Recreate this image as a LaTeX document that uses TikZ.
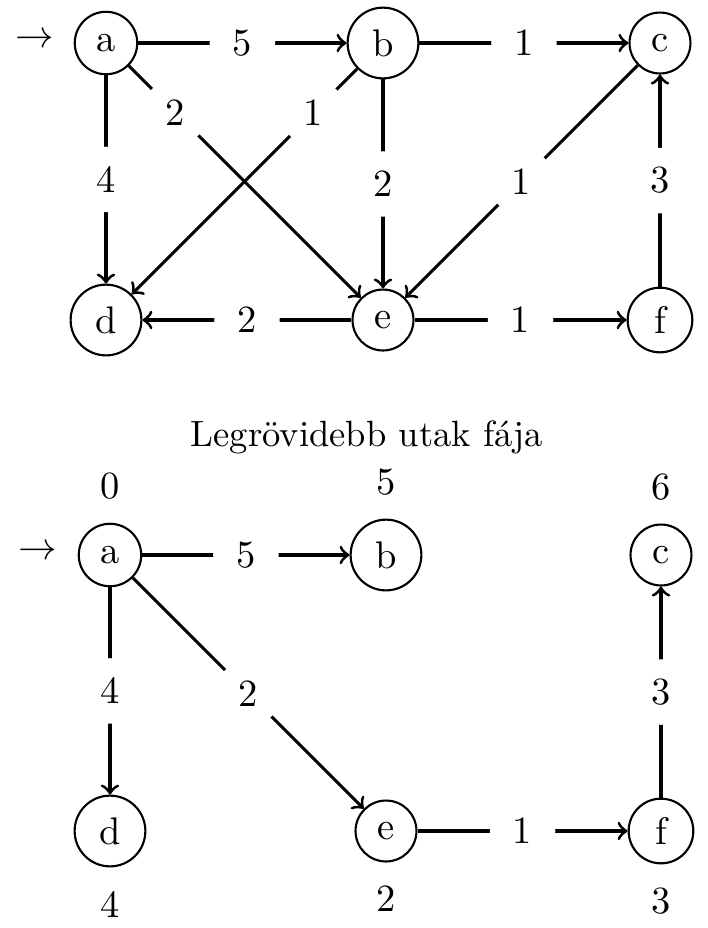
\documentclass[tikz,border=0pt]{standalone}
\begin{document}
\begin{tikzpicture}[x=0.2597pt,y=-0.2597pt,
  vert/.style={circle, draw, line width=0.55pt, inner sep=3.33pt},
  wlab/.style={circle, fill=white, minimum size=17pt, inner sep=0pt},
  edge/.style={thick, ->},
  dist/.style={label distance=2.6pt}]
\useasboundingbox (0,0) rectangle (707,928);
% top graph
\node[vert] (a) at (106,43) {a};
\node[vert] (b) at (383,43) {b};
\node[vert] (c) at (660,43) {c};
\node[vert] (d) at (106,320) {d};
\node[vert] (e) at (383,320) {e};
\node[vert] (f) at (660,320) {f};
\node (start1) at (35,40) {$\rightarrow$};
\draw[edge] (a) -- node[wlab]{5} (b);
\draw[edge] (b) -- node[wlab]{1} (c);
\draw[edge] (a) -- node[wlab]{4} (d);
\draw[edge] (a) -- node[wlab,pos=0.2]{2} (e);
\draw[edge] (b) -- node[wlab,pos=0.195]{1} (d);
\draw[edge] (b) -- node[wlab]{2} (e);
\draw[edge] (c) -- node[wlab]{1} (e);
\draw[edge] (f) -- node[wlab]{3} (c);
\draw[edge] (e) -- node[wlab]{2} (d);
\draw[edge] (e) -- node[wlab]{1} (f);
% title
\node (title) at (367,437) {\fontsize{9.5}{11}\selectfont Legrövidebb utak fája};
% bottom tree
\node[vert, label={[dist]above:0}] (A) at (110,555) {a};
\node[vert, label={[dist]above:5}] (B) at (386,555) {b};
\node[vert, label={[dist]above:6}] (C) at (661,555) {c};
\node[vert, label={[dist]below:4}] (D) at (110,831) {d};
\node[vert, label={[dist]below:2}] (E) at (386,831) {e};
\node[vert, label={[dist]below:3}] (F) at (661,831) {f};
\node (start2) at (38,552) {$\rightarrow$};
\draw[edge] (A) -- node[wlab]{5} (B);
\draw[edge] (A) -- node[wlab]{4} (D);
\draw[edge] (A) -- node[wlab]{2} (E);
\draw[edge] (E) -- node[wlab]{1} (F);
\draw[edge] (F) -- node[wlab]{3} (C);
\end{tikzpicture}
\end{document}
